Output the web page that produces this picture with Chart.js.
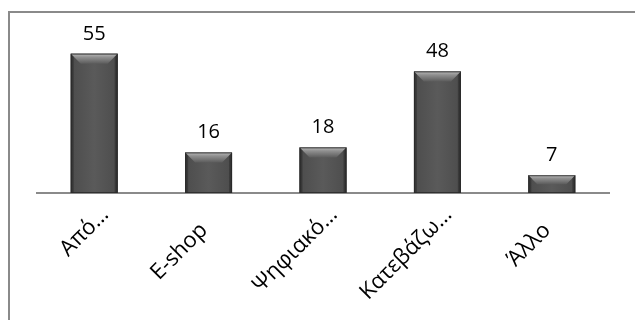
<!DOCTYPE html>
<html>
<head>
<meta charset="utf-8">
<script src="https://cdn.jsdelivr.net/npm/chart.js@4/dist/chart.umd.min.js"></script>
<style>
  html, body { margin: 0; padding: 0; background: #ffffff; }
  #wrap { position: relative; width: 635px; height: 320px; overflow: hidden; }
  #frame { position: absolute; left: 8px; top: 11px; width: 700px; height: 400px;
           border-left: 2px solid #8a8a8a; border-top: 2px solid #8a8a8a; box-sizing: border-box; }
  canvas { position: absolute; left: 0; top: 0; }
</style>
</head>
<body>
<div id="wrap">
  <div id="frame"></div>
  <canvas id="c" width="635" height="320"></canvas>
</div>
<script>
// Survey answers and counts
const categories = ['Από…', 'E-shop', 'Ψηφιακό…', 'Κατεβάζω…', 'Άλλο'];
const counts = [55, 16, 18, 48, 7];
const yMin = 0;
const yMax = 60;

const FONT = '"Open Sans", "DejaVu Sans", sans-serif';

// Bevelled bar look plus value labels above each bar
const bevelBars = {
  id: 'bevelBars',
  afterDatasetsDraw(chart) {
    const ctx = chart.ctx;
    const meta = chart.getDatasetMeta(0);
    meta.data.forEach((bar, i) => {
      const w = bar.width;
      const l = bar.x - w / 2, r = bar.x + w / 2;
      const t = bar.y, b = bar.base;
      const h = b - t;
      const bv = Math.min(10, h / 2);
      ctx.save();
      // horizontal body shading
      const g = ctx.createLinearGradient(l, 0, r, 0);
      g.addColorStop(0, '#3a3a3a');
      g.addColorStop(0.06, '#4e4e4e');
      g.addColorStop(0.5, '#5a5a5a');
      g.addColorStop(0.94, '#4e4e4e');
      g.addColorStop(1, '#353535');
      ctx.fillStyle = g;
      ctx.fillRect(l, t, w, h);
      // top bevel
      const tg = ctx.createLinearGradient(0, t, 0, t + bv);
      tg.addColorStop(0, '#bababa');
      tg.addColorStop(0.35, '#909090');
      tg.addColorStop(1, '#5c5c5c');
      ctx.fillStyle = tg;
      ctx.beginPath();
      ctx.moveTo(l, t);
      ctx.lineTo(r, t);
      ctx.lineTo(r - bv, t + bv);
      ctx.lineTo(l + bv, t + bv);
      ctx.closePath();
      ctx.fill();
      // side bevels
      ctx.fillStyle = 'rgba(30,30,30,0.35)';
      ctx.beginPath();
      ctx.moveTo(l, t);
      ctx.lineTo(l + 3, t + 3);
      ctx.lineTo(l + 3, b);
      ctx.lineTo(l, b);
      ctx.closePath();
      ctx.fill();
      ctx.beginPath();
      ctx.moveTo(r, t);
      ctx.lineTo(r - 3, t + 3);
      ctx.lineTo(r - 3, b);
      ctx.lineTo(r, b);
      ctx.closePath();
      ctx.fill();
      // outline
      ctx.strokeStyle = 'rgba(40,40,40,0.8)';
      ctx.lineWidth = 1;
      ctx.strokeRect(l + 0.5, t + 0.5, w - 1, h - 1);
      ctx.restore();

      // value label
      ctx.save();
      ctx.fillStyle = '#000000';
      ctx.font = '20px ' + FONT;
      ctx.textAlign = 'center';
      ctx.textBaseline = 'alphabetic';
      ctx.fillText(String(counts[i]), bar.x, t - 14);
      ctx.restore();
    });
  }
};

new Chart(document.getElementById('c'), {
  type: 'bar',
  data: {
    labels: categories,
    datasets: [{
      data: counts,
      backgroundColor: '#555555',
      borderWidth: 0,
      barPercentage: 0.41,
      categoryPercentage: 1.0
    }]
  },
  options: {
    responsive: false,
    animation: false,
    devicePixelRatio: 1,
    layout: { padding: { left: 37, right: 26, top: 41, bottom: 0 } },
    plugins: {
      legend: { display: false },
      tooltip: { enabled: false }
    },
    scales: {
      y: {
        display: false,
        min: yMin,
        max: yMax
      },
      x: {
        grid: { display: false },
        border: { display: true, color: '#8a8a8a', width: 2 },
        ticks: {
          color: '#000000',
          font: { family: FONT, size: 22 },
          maxRotation: 45,
          minRotation: 45,
          autoSkip: false,
          padding: 1,
          labelOffset: 11,
          // full-length names get a little trailing room so they sit like the shortened ones
          callback: (v, i) => categories[i].endsWith('…') ? categories[i] : categories[i] + '\u2002\u2002'
        },
        afterFit(scale) { scale.height = 127; }
      }
    }
  },
  plugins: [bevelBars]
});
</script>
</body>
</html>
